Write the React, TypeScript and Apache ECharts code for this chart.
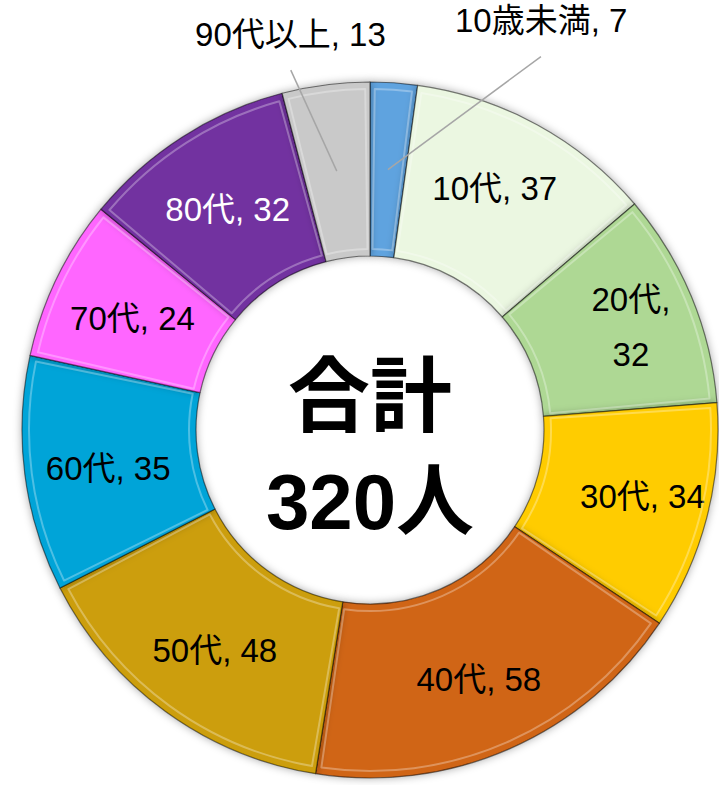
import React, { useEffect, useRef } from "react";
import * as echarts from "echarts";

const categories = ["10歳未満", "10代", "20代", "30代", "40代", "50代", "60代", "70代", "80代", "90代以上"];
const values = [7, 37, 32, 34, 58, 48, 35, 24, 32, 13];
const totalLabel = ["合計", "320人"];

const colors = ["#5FA3DF", "#EBF7E1", "#AED894", "#FFCC00", "#D06517", "#CC9E07", "#05A4D8", "#FF66FF", "#7230A0", "#C9C9C9"];
const labelColors = ["#000", "#000", "#000", "#000", "#000", "#000", "#000", "#000", "#fff", "#000"];
const labelOffsets: number[][] = [[153, -146], [-2, -10], [17, -2], [17, 0], [3, 8], [0, 7], [0, 5], [0, 4], [0, 2], [-46, -134]];
const outsideIdx = [0, 9];

const CX = 370, CY = 430, R0 = 174, R1 = 348;
const FONT = "'Liberation Sans', 'Noto Sans CJK JP', sans-serif";

export default function App() {
  const ref = useRef<HTMLDivElement>(null);
  useEffect(() => {
    if (!ref.current) return;
    const chart = echarts.init(ref.current, null, { renderer: "svg" });
    const total = values.reduce((a, b) => a + b, 0);
    const mid = (i: number) => {
      let cum = 0;
      for (let k = 0; k < i; k++) cum += values[k];
      const a = ((cum + values[i] / 2) / total) * 360;
      const rad = ((90 - a) * Math.PI) / 180;
      const r = (R0 + R1) / 2;
      return [CX + r * Math.cos(rad), CY - r * Math.sin(rad)];
    };
    const leaderLines = outsideIdx.map((i) => {
      const p = mid(i);
      const off = labelOffsets[i];
      return {
        type: "line",
        silent: true,
        z: 100,
        shape: { x1: p[0], y1: p[1], x2: p[0] + off[0], y2: p[1] + off[1] + 33 },
        style: { stroke: "#A6A6A6", lineWidth: 1.5 },
      };
    });
    const data = categories.map((name, i) => ({
      name,
      value: values[i],
      itemStyle: { color: colors[i] },
      label: {
        color: labelColors[i],
        offset: labelOffsets[i],
        formatter: name === "20代" ? "{b},\n{c}" : "{b}, {c}",
        lineHeight: name === "20代" ? 55 : 40,
      },
    }));
    chart.setOption({
      animation: false,
      series: [
        {
          type: "pie",
          center: [CX, CY],
          radius: [R0, R1],
          startAngle: 90,
          clockwise: true,
          avoidLabelOverlap: false,
          itemStyle: {
            borderColor: "rgba(0,0,0,0.5)",
            borderWidth: 1.2,
            shadowBlur: 8,
            shadowColor: "rgba(0,0,0,0.35)",
          },
          label: {
            show: true,
            position: "inside",
            fontSize: 33,
            fontFamily: FONT,
          },
          labelLine: { show: false },
          data,
        },
        {
          type: "pie",
          center: [CX, CY],
          radius: [R0 + 7, R1 - 7],
          startAngle: 90,
          clockwise: true,
          silent: true,
          padAngle: 1.6,
          itemStyle: {
            color: "rgba(0,0,0,0)",
            borderColor: "rgba(255,255,255,0.3)",
            borderWidth: 2,
          },
          label: { show: false },
          labelLine: { show: false },
          data: categories.map((name, i) => ({ name, value: values[i] })),
          z: 3,
        },
      ],
      graphic: [
        ...leaderLines,
        {
          type: "text",
          x: CX,
          y: CY - 34,
          z: 100,
          style: {
            text: totalLabel[0],
            fill: "#000",
            font: `bold 82px ${FONT}`,
            textAlign: "center",
            textVerticalAlign: "middle",
          },
        },
        {
          type: "text",
          x: CX,
          y: CY + 72,
          z: 100,
          style: {
            text: totalLabel[1],
            fill: "#000",
            font: `bold 78px ${FONT}`,
            textAlign: "center",
            textVerticalAlign: "middle",
          },
        },
      ],
    });
    return () => chart.dispose();
  }, []);
  return <div ref={ref} style={{ position: "absolute", left: 0, top: 0, width: 719, height: 785 }} />;
}
